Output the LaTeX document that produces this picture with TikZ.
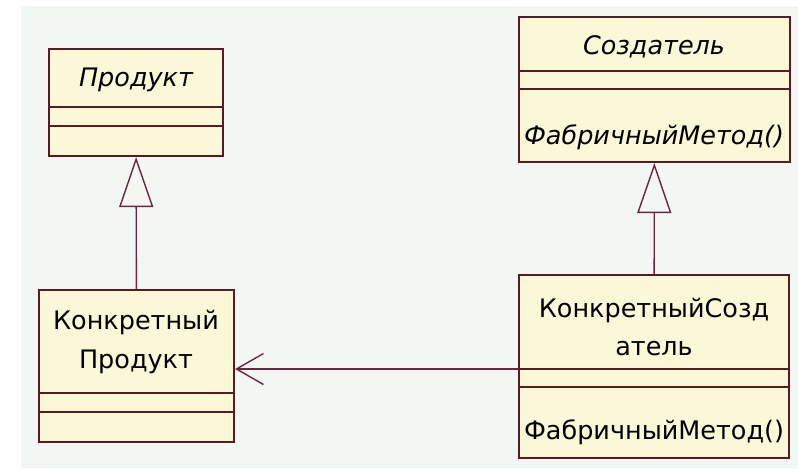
\documentclass[tikz,border=0pt]{standalone}
\usepackage{fontspec}
\setmainfont{DejaVu Sans}
\usepackage{tikz}
\usetikzlibrary{arrows.meta, positioning, fit}
\definecolor{umlline}{HTML}{5A1A24}
\definecolor{umlconn}{HTML}{6E2440}
\definecolor{umlfill}{HTML}{FAF8D6}
\definecolor{umlback}{HTML}{F3F7F4}
\tikzset{
  clsbox/.style={draw=umlline, fill=umlfill, line width=1.2pt, inner sep=0pt},
  clsdiv/.style={umlline, line width=1.2pt},
  clstext/.style={font=\fontsize{14.5}{22}\selectfont, align=center, inner sep=0pt},
  clsital/.style={clstext, font=\fontsize{14.5}{22}\selectfont\itshape},
  gen/.style={-{Triangle[open, length=1cm, width=0.68cm]}, umlconn, line width=0.8pt},
  dep/.style={-{Straight Barb[length=0.54cm, width=0.62cm]}, umlconn, line width=0.8pt},
}

\begin{document}
\begin{tikzpicture}[x=0.02cm, y=-0.02cm]
  \useasboundingbox (0,0) rectangle (798,468);
  \fill[umlback] (21,6) rectangle (798,468);

  % abstract classes
  \node[clsbox, fit={(49,49) (223,156)}] (prod) {};
  \node[clsital] (prodname) at (136,80) {Продукт};
  \draw[clsdiv] (prod.west |- 0,107) -- (prod.east |- 0,107);
  \draw[clsdiv] (prod.west |- 0,126) -- (prod.east |- 0,126);

  \node[clsbox, fit={(519,17) (790,162)}] (creator) {};
  \node[clsital] (creatorname) at (654,47) {Создатель};
  \draw[clsdiv] (creator.west |- 0,71) -- (creator.east |- 0,71);
  \draw[clsdiv] (creator.west |- 0,89) -- (creator.east |- 0,89);
  \node[clsital] (creatorop) at (654,137) {ФабричныйМетод()};

  % concrete classes
  \node[clsbox, fit={(39,290) (234,442)}] (kprod) {};
  \node[clstext] (kprodname) at (136,342) {Конкретный\\Продукт};
  \draw[clsdiv] (kprod.west |- 0,393) -- (kprod.east |- 0,393);
  \draw[clsdiv] (kprod.west |- 0,412) -- (kprod.east |- 0,412);

  \node[clsbox, fit={(519,275) (789,458)}] (kcreator) {};
  \node[clstext] (kcreatorname) at (654,327) {КонкретныйСозд\\атель};
  \coordinate (kcreatordiv) at (kcreator.west |- 0,369);
  \draw[clsdiv] (kcreatordiv) -- (kcreator.east |- 0,369);
  \draw[clsdiv] (kcreator.west |- 0,387) -- (kcreator.east |- 0,387);
  \node[clstext] (kcreatorop) at (654,432) {ФабричныйМетод()};

  % relations
  \draw[gen] (kprod) -- (prod);
  \draw[gen] (kcreator) -- (creator);
  \draw[dep] (kcreatordiv) -- (kprod.east |- kcreatordiv);
\end{tikzpicture}
\end{document}
